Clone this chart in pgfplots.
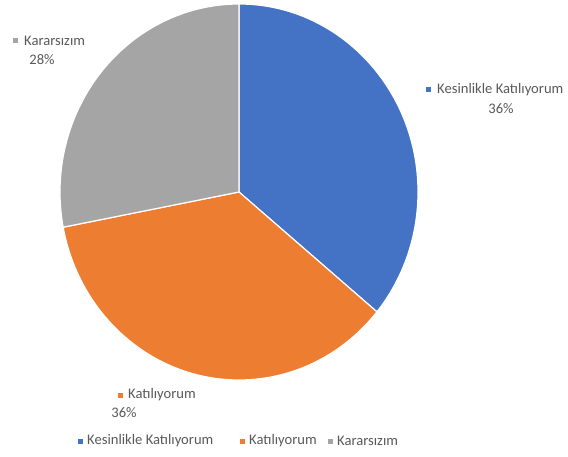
\documentclass[border=0pt]{standalone}
\usepackage{pgfplots}
\pgfplotsset{compat=1.18}
\usepackage{fontspec}
\setmainfont{Carlito}
\definecolor{piblue}{HTML}{4472C4}
\definecolor{piorange}{HTML}{ED7D31}
\definecolor{pigray}{HTML}{A5A5A5}
\definecolor{txt}{HTML}{595959}
% values (percent): Kesinlikle Katılıyorum 36, Katılıyorum 36, Kararsızım 28
\def\va{36}\def\vb{36}\def\vc{28}
\def\rx{179}\def\ry{188}
\begin{document}
\begin{tikzpicture}
\begin{axis}[x=1pt,y=1pt,xmin=0,xmax=568,ymin=0,ymax=456,hide axis,clip=false,
  scale only axis]
\path (axis cs:0,0) rectangle (axis cs:568,456);
\fill[piblue,draw=white,line width=1.2pt,line join=round] (axis cs:239,264) -- (axis cs:{239+\rx*cos(90)},{264+\ry*sin(90)}) arc[start angle=90,end angle={90-\va*3.6},x radius=\rx pt,y radius=\ry pt] -- cycle;
\fill[piorange,draw=white,line width=1.2pt,line join=round] (axis cs:239,264) -- (axis cs:{239+\rx*cos(90-\va*3.6)},{264+\ry*sin(90-\va*3.6)}) arc[start angle={90-\va*3.6},end angle={90-(\va+\vb)*3.6},x radius=\rx pt,y radius=\ry pt] -- cycle;
\fill[pigray,draw=white,line width=1.2pt,line join=round] (axis cs:239,264) -- (axis cs:{239+\rx*cos(90-(\va+\vb)*3.6)},{264+\ry*sin(90-(\va+\vb)*3.6)}) arc[start angle={90-(\va+\vb)*3.6},end angle={90-(\va+\vb+\vc)*3.6},x radius=\rx pt,y radius=\ry pt] -- cycle;
% data labels
\begin{scope}[every node/.style={font=\fontsize{14.6}{17}\selectfont,text=txt,inner sep=0pt}]
\fill[pigray] (axis cs:12.5,412.5) rectangle (axis cs:17.5,417.5);
\node[anchor=west] at (axis cs:24,415) {Kararsızım};
\node at (axis cs:42,396) {\vc\%};
\fill[piblue] (axis cs:425.5,363.5) rectangle (axis cs:430.5,368.5);
\node[anchor=west] at (axis cs:437,366) {Kesinlikle Katılıyorum};
\node at (axis cs:501,347) {\va\%};
\fill[piorange] (axis cs:117.5,58.5) rectangle (axis cs:122.5,63.5);
\node[anchor=west] at (axis cs:128,61) {Katılıyorum};
\node at (axis cs:124,43) {\vb\%};
% legend
\fill[piblue] (axis cs:77.5,12.5) rectangle (axis cs:82.5,17.5);
\node[anchor=west] at (axis cs:87,15) {Kesinlikle Katılıyorum};
\fill[piorange] (axis cs:239.5,12.5) rectangle (axis cs:244.5,17.5);
\node[anchor=west] at (axis cs:249,15) {Katılıyorum};
\fill[pigray] (axis cs:327.5,12.5) rectangle (axis cs:332.5,17.5);
\node[anchor=west] at (axis cs:337,15) {Kararsızım};
\end{scope}
\end{axis}
\end{tikzpicture}
\end{document}
